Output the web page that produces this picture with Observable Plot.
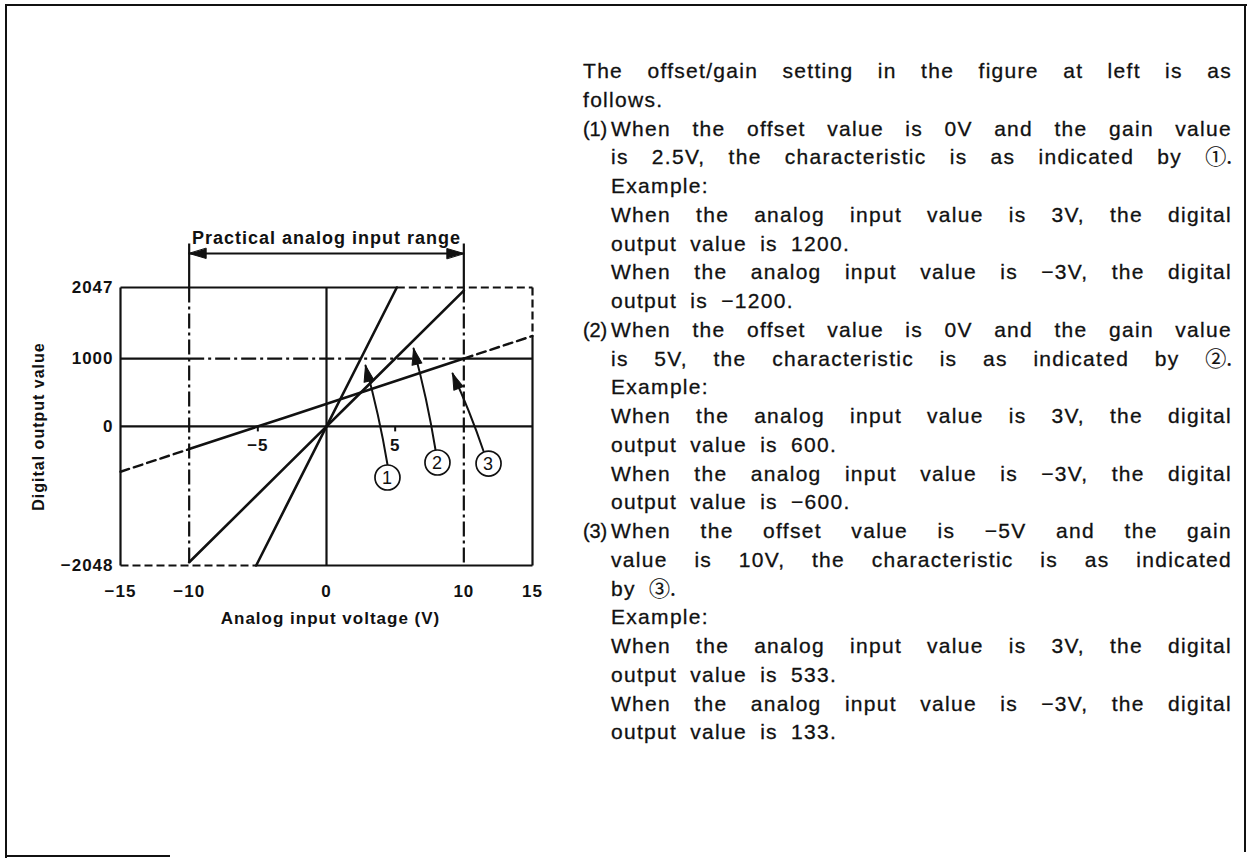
<!DOCTYPE html>
<html>
<head>
<meta charset="utf-8">
<script src="https://cdn.jsdelivr.net/npm/d3@7"></script>
<script src="https://cdn.jsdelivr.net/npm/@observablehq/plot@0.6"></script>
<style>
  html, body { margin: 0; padding: 0; background: #fff; }
  body { width: 1248px; height: 858px; position: relative; overflow: hidden;
         font-family: "Liberation Sans", Arial, sans-serif; color: #111; }
  #chart { position: absolute; left: 0; top: 0; }
  .edge { position: absolute; background: #111; }
  #notes { position: absolute; left: 583px; top: 57px; width: 649px;
           font-size: 21px; line-height: 28.75px; letter-spacing: 1.3px;
           -webkit-text-stroke: 0.3px #111; }
  #notes .ln { white-space: nowrap; position: relative; height: 28.75px; word-spacing: 6px; }
  #notes .full { text-align: justify; text-align-last: justify; white-space: normal; word-spacing: 0; }
  #notes .ind { margin-left: 28px; }
  #notes .num { position: absolute; left: -28px; top: 0; font-size: 20px; letter-spacing: -0.2px; }
  #notes .circ { display: inline-block; font-family: "Noto Sans CJK JP", "DejaVu Sans", sans-serif;
                 font-size: 21px; line-height: 16px; letter-spacing: 0; -webkit-text-stroke: 0.2px #111; }
</style>
</head>
<body>
<div class="edge" style="left:5px;top:4px;width:1242px;height:2px"></div>
<div class="edge" style="left:5px;top:4px;width:2px;height:854px"></div>
<div class="edge" style="left:1244px;top:4px;width:2px;height:848px"></div>
<div class="edge" style="left:5px;top:855px;width:165px;height:2px"></div>
<div id="chart"></div>
<div id="notes"></div>
<script>
// Axis extents and tick values
const xDomain = [-15, 15];
const yDomain = [-2048, 2047];
const xTicks = [-15, -10, 0, 10, 15];
const yTicks = [-2048, 0, 1000, 2047];
const zeroLineTicks = [-5, 5];

// Characteristic ①: offset 0 V, gain 2.5 V (clipped at the digital limits)
const char1 = [{v: -5.12, d: -2048}, {v: -3, d: -1200}, {v: 3, d: 1200}, {v: 5.12, d: 2047}];
// Characteristic ②: offset 0 V, gain 5 V
const char2 = [{v: -10, d: -2000}, {v: -3, d: -600}, {v: 3, d: 600}, {v: 10, d: 2000}];
// Characteristic ③: offset −5 V, gain 10 V; solid inside the practical range
const char3 = [{v: -10, d: -333}, {v: -3, d: 133}, {v: 3, d: 533}, {v: 10, d: 1000}];
const char3Below = [{v: -15, d: -667}, {v: -10, d: -333}];
const char3Above = [{v: 10, d: 1000}, {v: 15, d: 1333}];

// Practical analog input range
const rangeSpan = [-10, 10];
const rangeLabel = "Practical analog input range";
const rangeLevel = 2548;
const rangeTop = 2695;

// Reference segments inside the graph (volts, digital value)
const solidGuides = [
  {x1: -15, y1: -2048, x2: -15, y2: 2047},
  {x1: -15, y1: 2047, x2: 5.12, y2: 2047},
  {x1: 15, y1: 1333, x2: 15, y2: -2048},
  {x1: -5.12, y1: -2048, x2: 15, y2: -2048},
  {x1: -15, y1: 0, x2: 15, y2: 0},
  {x1: 0, y1: -2048, x2: 0, y2: 2047},
  {x1: -15, y1: 1000, x2: -10, y2: 1000},
  {x1: 10, y1: 1000, x2: 15, y2: 1000},
  {x1: -10, y1: 2047, x2: -10, y2: rangeTop},
  {x1: 10, y1: 2047, x2: 10, y2: rangeTop}
];
const dashedGuides = [
  {x1: 5.12, y1: 2047, x2: 15, y2: 2047},
  {x1: 15, y1: 2047, x2: 15, y2: 1333},
  {x1: -15, y1: -2048, x2: -5.12, y2: -2048}
];
const chainGuides = [
  {x1: -10, y1: 2047, x2: -10, y2: -2048},
  {x1: 10, y1: 2047, x2: 10, y2: -2048},
  {x1: -10, y1: 1000, x2: 10, y2: 1000}
];

// Callouts: arrow tip, arrow tail and the circled number
const callouts = [
  {id: "1", tipV: 2.84, tipD: 898, tailV: 4.44, tailD: -560, circV: 4.44, circD: -752},
  {id: "2", tipV: 6.34, tipD: 1148, tailV: 7.94, tailD: -347, circV: 8.08, circD: -531},
  {id: "3", tipV: 9.18, tipD: 780, tailV: 11.43, tailD: -361, circV: 11.8, circD: -546}
];

const W = 560, H = 640;
const M = {left: 120, right: 28, top: 287, bottom: 75};
const sx = d3.scaleLinear(xDomain, [M.left, W - M.right]);
const sy = d3.scaleLinear(yDomain, [H - M.bottom, M.top]);
const heading = (d) => Math.atan2(sx(d.tipV) - sx(d.tailV), -(sy(d.tipD) - sy(d.tailD))) * 180 / Math.PI;

// Filled triangular arrowhead, tip at the anchor point
const head = {
  draw(ctx, l, r) { ctx.moveTo(0, -l); ctx.lineTo(-r, 0); ctx.lineTo(r, 0); ctx.closePath(); }
};
const fmt = d3.format("d");
const ink = "#111";

const chart = Plot.plot({
  width: W, height: H,
  marginLeft: M.left, marginRight: M.right, marginTop: M.top, marginBottom: M.bottom,
  style: {fontFamily: "'Liberation Sans', Arial, sans-serif", fontSize: "17px", fontWeight: "bold",
          letterSpacing: "1px", color: ink, background: "transparent"},
  x: {domain: xDomain},
  y: {domain: yDomain},
  marks: [
    Plot.link(solidGuides, {x1: "x1", y1: "y1", x2: "x2", y2: "y2", stroke: ink, strokeWidth: 2.2}),
    Plot.link(dashedGuides, {x1: "x1", y1: "y1", x2: "x2", y2: "y2", stroke: ink, strokeWidth: 2.2, strokeDasharray: "8,4"}),
    Plot.link(chainGuides, {x1: "x1", y1: "y1", x2: "x2", y2: "y2", stroke: ink, strokeWidth: 2.2, strokeDasharray: "15,4,3,4"}),
    Plot.ruleX(zeroLineTicks, {y1: 0, y2: -80, stroke: ink, strokeWidth: 2}),
    Plot.text(zeroLineTicks, {x: (d) => d, y: () => 0, dy: 19, text: (d) => fmt(d)}),
    Plot.line(char1, {x: "v", y: "d", stroke: ink, strokeWidth: 2.6}),
    Plot.line(char2, {x: "v", y: "d", stroke: ink, strokeWidth: 2.6}),
    Plot.line(char3, {x: "v", y: "d", stroke: ink, strokeWidth: 2.6}),
    Plot.line(char3Below, {x: "v", y: "d", stroke: ink, strokeWidth: 2.4, strokeDasharray: "9,5"}),
    Plot.line(char3Above, {x: "v", y: "d", stroke: ink, strokeWidth: 2.4, strokeDasharray: "9,5"}),
    // practical range arrow
    Plot.ruleY([rangeLevel], {x1: rangeSpan[0], x2: rangeSpan[1], stroke: ink, strokeWidth: 2.2}),
    Plot.vector(rangeSpan, {x: (d) => d, y: () => rangeLevel, rotate: (d) => (d < 0 ? -90 : 90), length: 17, r: 5, anchor: "end", shape: head, fill: ink, stroke: ink, strokeWidth: 1}),
    Plot.text([rangeLabel], {x: () => 0, y: () => rangeLevel, dy: -15, fontSize: 18}),
    // callouts
    Plot.arrow(callouts, {x1: "tailV", y1: "tailD", x2: "tipV", y2: "tipD", bend: -3, headLength: 0, stroke: ink, strokeWidth: 2}),
    Plot.vector(callouts, {x: "tipV", y: "tipD", rotate: heading, length: 16, r: 5, anchor: "end", shape: head, fill: ink, stroke: ink, strokeWidth: 1}),
    Plot.dot(callouts, {x: "circV", y: "circD", r: 12.5, stroke: ink, strokeWidth: 1.7, fill: "white"}),
    Plot.text(callouts, {x: "circV", y: "circD", text: "id", fontSize: 18, fontWeight: "normal", dy: 1}),
    // axes
    Plot.axisX(xTicks, {tickSize: 0, tickPadding: 19, tickFormat: fmt, label: null}),
    Plot.axisY(yTicks, {tickSize: 0, tickPadding: 7, tickFormat: fmt, label: null}),
    Plot.text(["Digital output value"], {frameAnchor: "left", textAnchor: "middle", dx: -82, rotate: -90, fontSize: 16}),
    Plot.text(["Analog input voltage (V)"], {frameAnchor: "bottom", dx: 4, dy: 58, fontSize: 17})
  ]
});
document.getElementById("chart").appendChild(chart);

// Explanatory notes beside the graph
const notes = [
  {t: "The offset/gain setting in the figure at left is as", full: true},
  {t: "follows."},
  {n: "(1)", t: "When the offset value is 0V and the gain value", full: true},
  {t: "is 2.5V, the characteristic is as indicated by ", c: "①", e: ".", ind: true, full: true},
  {t: "Example:", ind: true},
  {t: "When the analog input value is 3V, the digital", ind: true, full: true},
  {t: "output value is 1200.", ind: true},
  {t: "When the analog input value is −3V, the digital", ind: true, full: true},
  {t: "output is −1200.", ind: true},
  {n: "(2)", t: "When the offset value is 0V and the gain value", full: true},
  {t: "is 5V, the characteristic is as indicated by ", c: "②", e: ".", ind: true, full: true},
  {t: "Example:", ind: true},
  {t: "When the analog input value is 3V, the digital", ind: true, full: true},
  {t: "output value is 600.", ind: true},
  {t: "When the analog input value is −3V, the digital", ind: true, full: true},
  {t: "output value is −600.", ind: true},
  {n: "(3)", t: "When the offset value is −5V and the gain", full: true},
  {t: "value is 10V, the characteristic is as indicated", ind: true, full: true},
  {t: "by ", c: "③", e: ".", ind: true},
  {t: "Example:", ind: true},
  {t: "When the analog input value is 3V, the digital", ind: true, full: true},
  {t: "output value is 533.", ind: true},
  {t: "When the analog input value is −3V, the digital", ind: true, full: true},
  {t: "output value is 133.", ind: true}
];
const box = document.getElementById("notes");
for (const l of notes) {
  const div = document.createElement("div");
  div.className = "ln" + (l.full ? " full" : "") + (l.ind || l.n ? " ind" : "");
  if (l.n) {
    const s = document.createElement("span");
    s.className = "num";
    s.textContent = l.n;
    div.appendChild(s);
  }
  div.appendChild(document.createTextNode(l.t));
  if (l.c) {
    const s = document.createElement("span");
    s.className = "circ";
    s.textContent = l.c + l.e;
    div.appendChild(s);
  }
  box.appendChild(div);
}
</script>
</body>
</html>
